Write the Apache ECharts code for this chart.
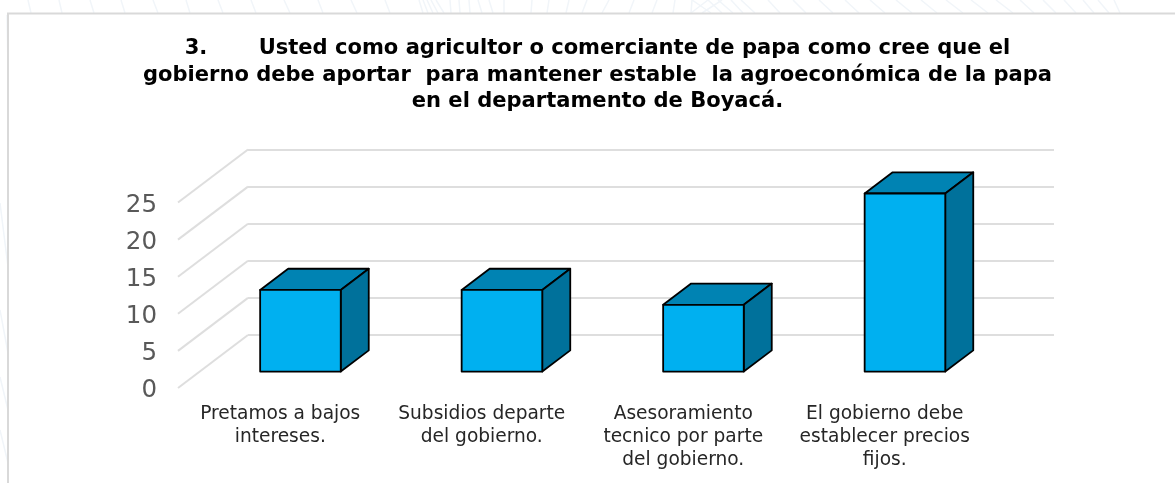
<!DOCTYPE html>
<html>
<head>
<meta charset="utf-8">
<title>Agroeconomica de la papa</title>
<style>
  html, body { margin: 0; padding: 0; background: #fff; }
  #chart { width: 1175px; height: 483px; }
</style>
<script src="https://cdn.jsdelivr.net/npm/echarts@6/dist/echarts.min.js"></script>
</head>
<body>
<div id="chart"></div>
<script>
var titleText = '3.\u00a0\u00a0\u00a0\u00a0\u00a0\u00a0 Usted como agricultor o comerciante de papa como cree que el\n' +
  'gobierno debe aportar  para mantener estable  la agroeconómica de la papa\n' +
  'en el departamento de Boyacá.'
var categories = [
  'Pretamos a bajos\nintereses.',
  'Subsidios departe\ndel gobierno.',
  'Asesoramiento\ntecnico por parte\ndel gobierno.',
  'El gobierno debe\nestablecer precios\nfijos.'
]
var values = [11, 11, 9, 24]
var yTicks = [0, 5, 10, 15, 20, 25]

// floor of the fake 3d box: how far the back wall sits from the front plane
var depthX = 70
var depthY = -53
var barFront = 0.31
var barBack = 0.71
var barWidth = 0.4

// faint watermark of the slide behind the chart, only shows outside the frame
var topLines = [
  [28, 31], [59, 62], [90, 94], [121, 125], [153, 158], [186, 190], [218, 223], [251, 256],
  [284, 290], [318, 323], [351, 357], [385, 390], [419, 423], [423, 428], [427, 433], [431, 438],
  [436, 444], [450, 451], [459, 460], [469, 470], [478, 482], [489, 493], [504, 504], [532, 531],
  [549, 547], [569, 566], [587, 582], [609, 602], [634, 629], [657, 652], [675, 673], [692, 691],
  [692, 711], [708, 722], [708, 691], [718, 733], [722, 702], [731, 743], [741, 755], [768, 780],
  [793, 806], [819, 833], [845, 859], [870, 885], [896, 912], [921, 937], [946, 963], [971, 988],
  [996, 1013], [1020, 1034], [1043, 1056], [1064, 1076], [1083, 1094], [1098, 1109], [1114, 1120]
]
var leftLines = [
  [7, 15, 8, 70], [0, 203, 8, 267], [0, 310, 8, 353], [0, 377, 8, 410], [0, 430, 8, 463]
]

function watermark() {
  var out = []
  topLines.forEach(function (p) {
    out.push({ type: 'line', silent: true, z: -2, shape: { x1: p[0], y1: 0, x2: p[1], y2: 13 }, style: { stroke: '#f1f5f9', lineWidth: 1.5 } })
  })
  leftLines.forEach(function (p) {
    out.push({ type: 'line', silent: true, z: -2, shape: { x1: p[0], y1: p[1], x2: p[2], y2: p[3] }, style: { stroke: '#f1f5f9', lineWidth: 1.5 } })
  })
  return out
}

function renderFloorLine(params, api) {
  var pt = api.coord([0, api.value(1)])
  var x = pt[0] - api.size([1, 0])[0] / 2
  return {
    type: 'line',
    shape: { x1: x, y1: pt[1], x2: x + depthX, y2: pt[1] + depthY },
    style: { stroke: '#dedede', lineWidth: 2 }
  }
}

function renderBar(params, api) {
  var top = api.coord([api.value(0), api.value(1)])
  var base = api.coord([api.value(0), 0])
  var half = api.size([1, 0])[0] * barWidth / 2
  var fx = barFront * depthX
  var fy = barFront * depthY
  var sx = (barBack - barFront) * depthX
  var sy = (barBack - barFront) * depthY
  var l = top[0] + fx - half
  var r = top[0] + fx + half
  var t = top[1] + fy
  var b = base[1] + fy
  var line = { stroke: '#000', lineWidth: 1.8, lineJoin: 'round' }
  return {
    type: 'group',
    children: [
      { type: 'polygon', shape: { points: [[l, t], [r, t], [r + sx, t + sy], [l + sx, t + sy]] }, style: Object.assign({ fill: '#0083b3' }, line) },
      { type: 'polygon', shape: { points: [[r, t], [r + sx, t + sy], [r + sx, b + sy], [r, b]] }, style: Object.assign({ fill: '#00719b' }, line) },
      { type: 'polygon', shape: { points: [[l, t], [r, t], [r, b], [l, b]] }, style: Object.assign({ fill: '#00b0f0' }, line) }
    ]
  }
}

var chart = echarts.init(document.getElementById('chart'))
chart.setOption({
  animation: false,
  backgroundColor: '#fff',
  title: {
    text: titleText,
    left: 592.5,
    top: 30.5,
    textAlign: 'center',
    textStyle: {
      fontFamily: 'DejaVu Sans',
      fontWeight: 'bold',
      fontSize: 21.05,
      lineHeight: 26.5,
      color: '#000'
    }
  },
  graphic: watermark().concat([{
    type: 'polyline',
    silent: true,
    z: -1,
    shape: { points: [[8, 483], [8, 13.5], [1175, 13.5]] },
    style: { stroke: '#d9d9d9', lineWidth: 2, fill: null }
  }]),
  grid: [
    // back wall, carries the horizontal gridlines
    { left: 248, top: 149.5, width: 806, height: 185.5 },
    // front plane, carries category labels and bars
    { left: 178, top: 202.5, width: 806, height: 185.5 },
    // only for the value labels, they sit a bit lower than the front plane
    { left: 178, top: 205.5, width: 806, height: 185.5 }
  ],
  xAxis: [
    { type: 'category', gridIndex: 0, data: categories, show: false },
    {
      type: 'category',
      gridIndex: 1,
      data: categories,
      axisLine: { show: false },
      axisTick: { show: false },
      axisLabel: {
        interval: 0,
        margin: 15,
        padding: [0, 0, 0, 3],
        fontFamily: 'DejaVu Sans',
        fontSize: 18.6,
        lineHeight: 22.7,
        color: '#262626'
      }
    },
    { type: 'category', gridIndex: 2, data: categories, show: false }
  ],
  yAxis: [
    {
      type: 'value',
      gridIndex: 0,
      min: 0,
      max: 25,
      interval: 5,
      axisLine: { show: false },
      axisTick: { show: false },
      axisLabel: { show: false },
      splitLine: { lineStyle: { color: '#dedede', width: 2 } }
    },
    {
      type: 'value',
      gridIndex: 1,
      min: 0,
      max: 25,
      interval: 5,
      show: false
    },
    {
      type: 'value',
      gridIndex: 2,
      min: 0,
      max: 25,
      interval: 5,
      axisLine: { show: false },
      axisTick: { show: false },
      splitLine: { show: false },
      axisLabel: {
        margin: 21,
        fontFamily: 'DejaVu Sans',
        fontSize: 24.5,
        color: '#595959'
      }
    }
  ],
  series: [
    {
      type: 'custom',
      xAxisIndex: 1,
      yAxisIndex: 1,
      silent: true,
      z: 1,
      clip: false,
      renderItem: renderFloorLine,
      encode: { x: 0, y: 1 },
      data: yTicks.map(function (t) { return [0, t] })
    },
    {
      type: 'custom',
      xAxisIndex: 1,
      yAxisIndex: 1,
      z: 2,
      clip: false,
      renderItem: renderBar,
      encode: { x: 0, y: 1 },
      data: values.map(function (v, i) { return [i, v] })
    }
  ]
})
</script>
</body>
</html>
